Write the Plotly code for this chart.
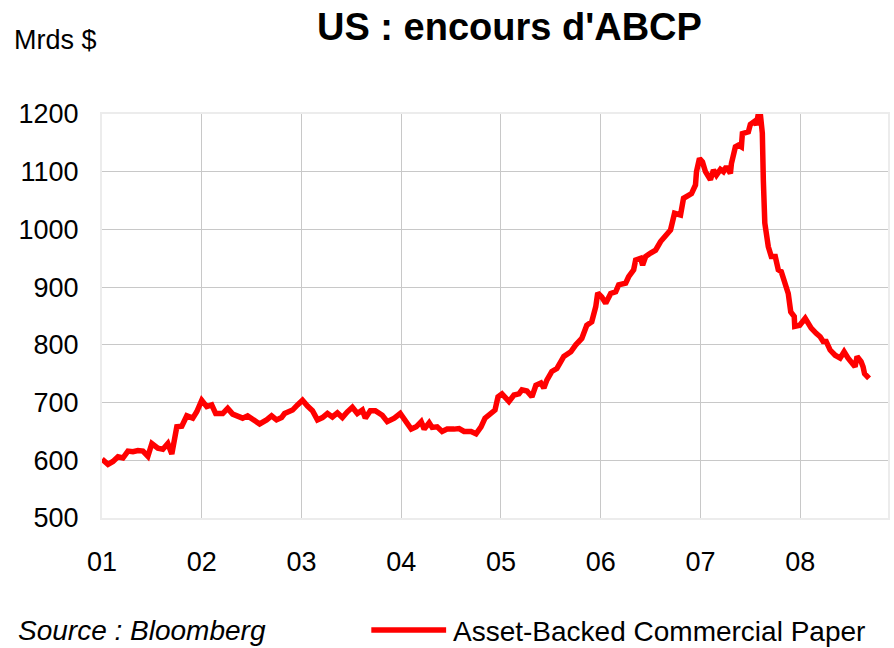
import plotly.graph_objects as go

# Data (decimal year, billions USD)
years = [
    2001.00, 2001.06, 2001.11, 2001.16, 2001.21, 2001.26, 2001.31, 2001.36, 2001.41, 2001.46,
    2001.50, 2001.56, 2001.61, 2001.66, 2001.70, 2001.75, 2001.80, 2001.85, 2001.91, 2001.95,
    2002.00, 2002.05, 2002.10, 2002.14, 2002.21, 2002.26, 2002.31, 2002.41, 2002.46, 2002.51,
    2002.58, 2002.65, 2002.70, 2002.75, 2002.80, 2002.83, 2002.88, 2002.91, 2002.96, 2003.01,
    2003.06, 2003.11, 2003.16, 2003.21, 2003.26, 2003.31, 2003.36, 2003.41, 2003.46, 2003.51,
    2003.56, 2003.61, 2003.64, 2003.69, 2003.74, 2003.81, 2003.86, 2003.93, 2003.99, 2004.05,
    2004.10, 2004.15, 2004.20, 2004.23, 2004.28, 2004.31, 2004.36, 2004.41, 2004.46, 2004.53,
    2004.58, 2004.63, 2004.70, 2004.75, 2004.80, 2004.84, 2004.90, 2004.94, 2004.97, 2005.01,
    2005.08, 2005.13, 2005.18, 2005.21, 2005.26, 2005.31, 2005.35, 2005.40, 2005.43, 2005.46,
    2005.51, 2005.56, 2005.63, 2005.70, 2005.75, 2005.81, 2005.86, 2005.91, 2005.95, 2005.97,
    2006.01, 2006.05, 2006.10, 2006.15, 2006.18, 2006.25, 2006.28, 2006.33, 2006.35, 2006.40,
    2006.42, 2006.45, 2006.50, 2006.55, 2006.60, 2006.65, 2006.70, 2006.74, 2006.80, 2006.83,
    2006.88, 2006.91, 2006.95, 2006.96, 2006.99, 2007.02, 2007.05, 2007.10, 2007.13, 2007.16,
    2007.20, 2007.23, 2007.26, 2007.30, 2007.31, 2007.35, 2007.38, 2007.41, 2007.42, 2007.48,
    2007.50, 2007.54, 2007.56, 2007.58, 2007.60, 2007.62, 2007.63, 2007.645, 2007.68, 2007.71,
    2007.75, 2007.78, 2007.81, 2007.85, 2007.88, 2007.905, 2007.94, 2007.945, 2007.995, 2008.05,
    2008.08, 2008.11, 2008.16, 2008.20, 2008.23, 2008.26, 2008.30, 2008.35, 2008.40, 2008.44,
    2008.48, 2008.51, 2008.55, 2008.57, 2008.61, 2008.63, 2008.645, 2008.69,
]
abcp = [
    602, 593, 598, 606, 604, 616, 615, 617, 616, 607,
    629, 621, 619, 629, 611, 658, 659, 677, 673, 684,
    704, 693, 696, 681, 681, 690, 680, 673, 677, 670,
    663, 670, 677, 670, 674, 681, 684, 687, 696, 704,
    694, 686, 670, 674, 681, 675, 682, 674, 684, 692,
    681, 687, 673, 686, 686, 678, 667, 673, 681, 664,
    654, 658, 667, 654, 665, 657, 658, 650, 654, 654,
    655, 650, 650, 646, 658, 673, 680, 687, 710, 715,
    702, 713, 715, 722, 720, 710, 730, 734, 725, 739,
    754, 759, 780, 788, 800, 811, 834, 840, 866, 890,
    883, 872, 889, 892, 904, 907, 918, 930, 947, 950,
    938, 953, 959, 964, 979, 990, 999, 1028, 1025, 1054,
    1060, 1062, 1077, 1100, 1123, 1117, 1100, 1086, 1103, 1094,
    1104, 1100, 1109, 1097, 1114, 1143, 1146, 1143, 1166, 1169,
    1182, 1187, 1181, 1200, 1200, 1167, 1086, 1011, 970, 953,
    953, 930, 927, 901, 889, 857, 849, 832, 834, 846,
    837, 829, 820, 814, 806, 806, 791, 782, 777, 788,
    777, 771, 762, 780, 771, 762, 750, 742,
]

tick_years = [2001, 2002, 2003, 2004, 2005, 2006, 2007, 2008]
tick_labels = ["01", "02", "03", "04", "05", "06", "07", "08"]
y_ticks = [500, 600, 700, 800, 900, 1000, 1100, 1200]

series_name = "Asset-Backed Commercial Paper"
title_text = "US : encours d'ABCP"
unit_text = "Mrds $"
source_text = "Source : Bloomberg"

FONT = "Liberation Sans, Arial, sans-serif"

fig = go.Figure()
fig.add_trace(go.Scatter(
    x=years, y=abcp, mode="lines", name=series_name,
    line=dict(color="#FF0000", width=5.5),
    showlegend=False, cliponaxis=True, hoverinfo="skip",
))

fig.update_layout(
    width=894, height=648,
    margin=dict(l=102, r=4, t=114, b=130),
    paper_bgcolor="white", plot_bgcolor="white",
    font=dict(family=FONT, color="black"),
    xaxis=dict(
        range=[2001.0, 2008.88],
        tickmode="array", tickvals=tick_years, ticktext=tick_labels,
        showgrid=True, gridcolor="#c8c8c8", gridwidth=1,
        zeroline=False, showline=True, linecolor="#ececec", linewidth=2,
        mirror=True, ticks="", tickfont=dict(size=27, family=FONT),
        ticklabelstandoff=19,
    ),
    yaxis=dict(
        range=[500, 1200],
        tickmode="array", tickvals=y_ticks,
        showgrid=True, gridcolor="#c8c8c8", gridwidth=1,
        zeroline=False, showline=True, linecolor="#ececec", linewidth=2,
        mirror=True, ticks="", tickfont=dict(size=27, family=FONT),
        ticklabelstandoff=16,
    ),
)

PW = 894 - 102 - 4
PH = 648 - 114 - 130

# Title
fig.add_annotation(
    text="<b>" + title_text + "</b>", xref="paper", yref="paper",
    x=(511 - 102) / PW, y=1 + (114 - 27) / PH,
    xanchor="center", yanchor="middle", showarrow=False,
    font=dict(size=38, family=FONT, color="black"),
)
# Unit label
fig.add_annotation(
    text=unit_text, xref="paper", yref="paper",
    x=(12 - 102) / PW, y=1 + (114 - 40) / PH,
    xanchor="left", yanchor="middle", showarrow=False,
    font=dict(size=27, family=FONT, color="black"),
)
# Source
fig.add_annotation(
    text="<i>" + source_text + "</i>", xref="paper", yref="paper",
    x=(16 - 102) / PW, y=-(630 - 518) / PH,
    xanchor="left", yanchor="middle", showarrow=False,
    font=dict(size=28, family=FONT, color="black"),
)
# Legend (line sample + text)
fig.add_shape(
    type="line", xref="paper", yref="paper",
    x0=(372 - 102) / PW, x1=(447 - 102) / PW,
    y0=-(630 - 518) / PH, y1=-(630 - 518) / PH,
    line=dict(color="#FF0000", width=5.5),
)
fig.add_annotation(
    text=series_name, xref="paper", yref="paper",
    x=(452 - 102) / PW, y=-(631 - 518) / PH,
    xanchor="left", yanchor="middle", showarrow=False,
    font=dict(size=28, family=FONT, color="black"),
)

fig.write_html(
    "out.html",
    config={"displayModeBar": False},
    post_script="document.body.style.margin='0';document.body.style.overflow='hidden';",
)
